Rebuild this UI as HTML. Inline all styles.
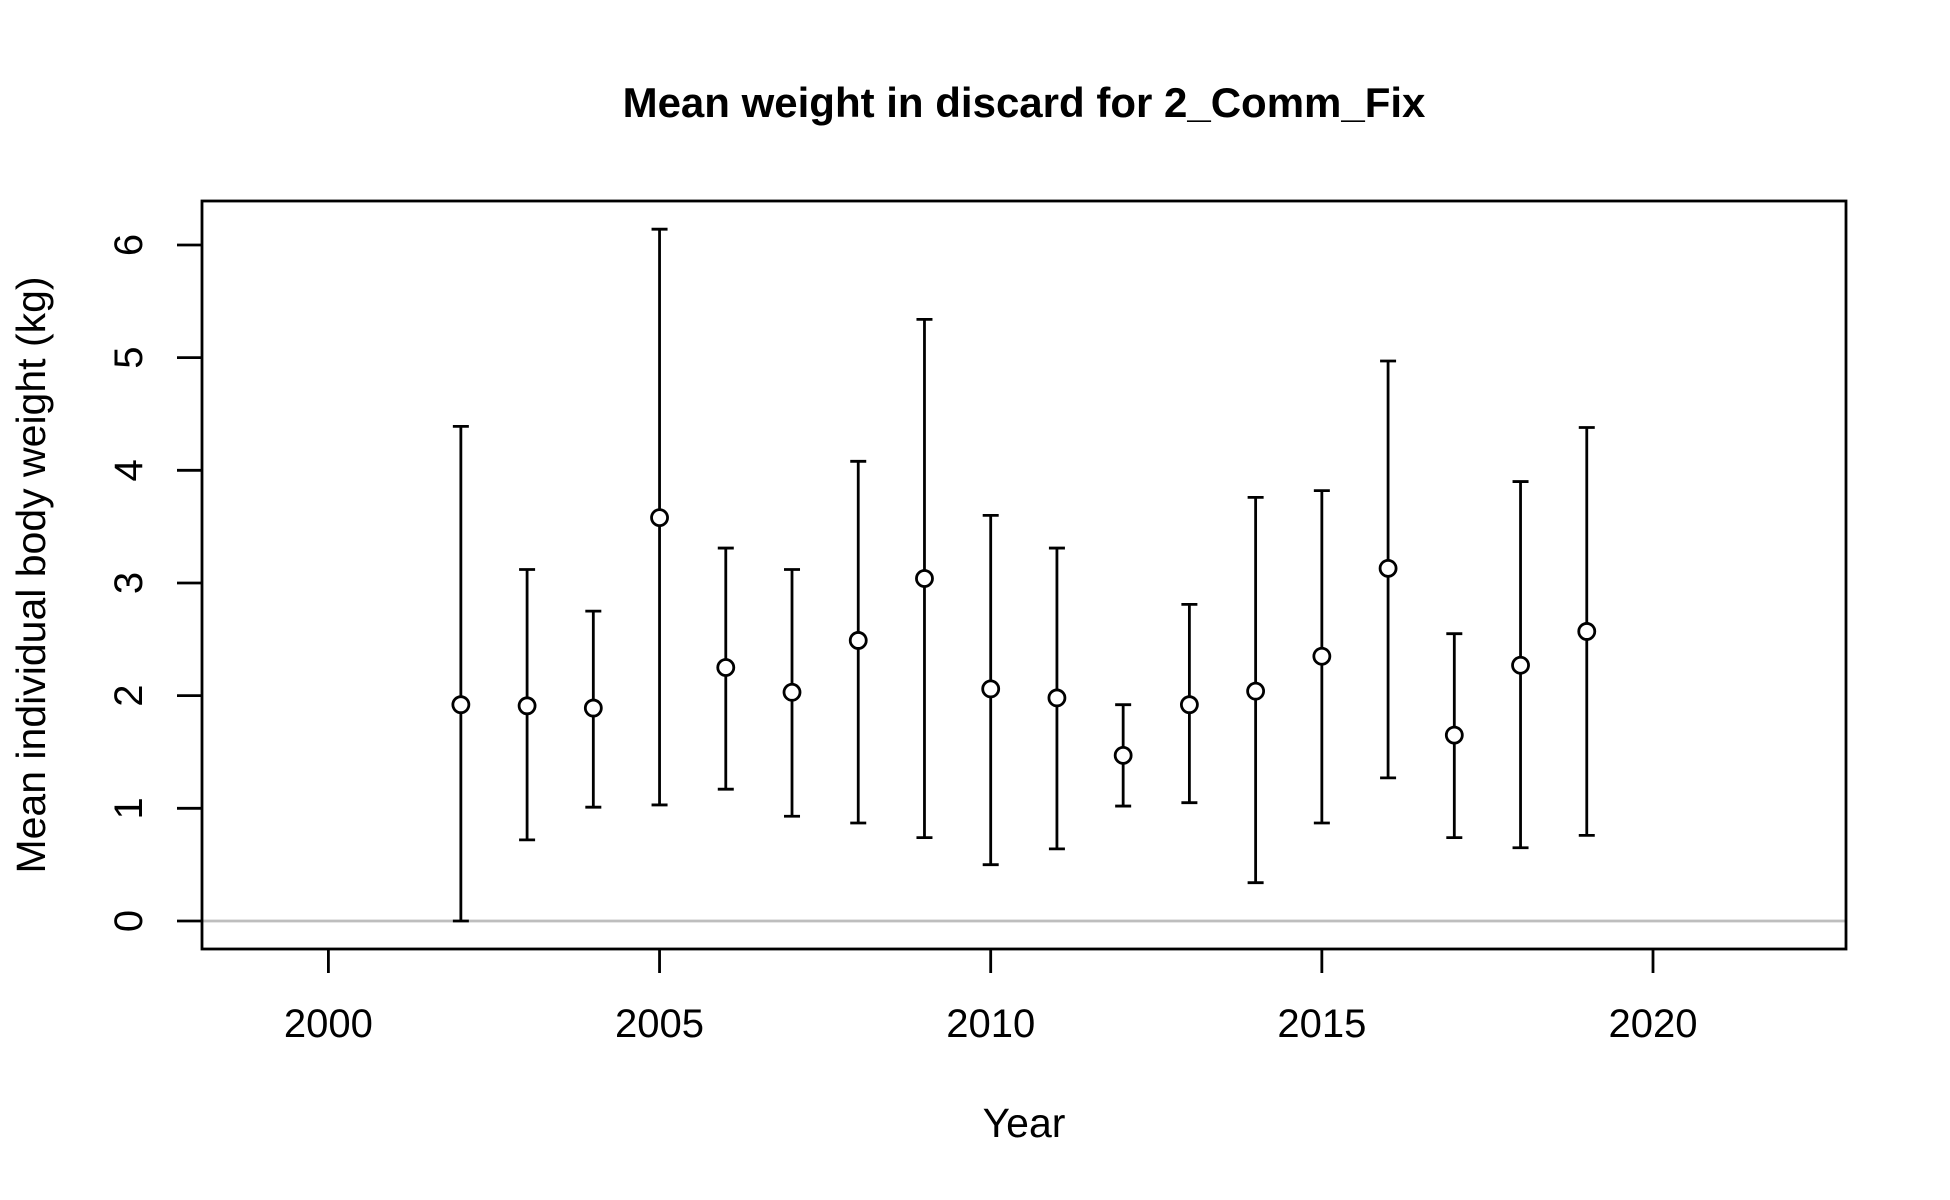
<!DOCTYPE html>
<html><head><meta charset="utf-8"><style>html,body{margin:0;padding:0;background:#fff}svg{display:block}text{font-family:"Liberation Sans",Arial,sans-serif}</style></head>
<body>
<svg id="chart" width="1950" height="1200" viewBox="0 0 1950 1200" xmlns="http://www.w3.org/2000/svg">
<rect width="1950" height="1200" fill="#fff"/>
<text x="1024" y="117" font-size="42" font-weight="bold" text-anchor="middle">Mean weight in discard for 2_Comm_Fix</text>
<text x="1024" y="1137" font-size="41" text-anchor="middle">Year</text>
<text transform="translate(45,575) rotate(-90)" font-size="41" text-anchor="middle">Mean individual body weight (kg)</text>
<g id="g"></g>
<rect x="202" y="201" width="1644" height="748" fill="none" stroke="#000" stroke-width="2.8"/>
</svg>
<script>
const years=[2002,2003,2004,2005,2006,2007,2008,2009,2010,2011,2012,2013,2014,2015,2016,2017,2018,2019];
const means=[1.92,1.91,1.89,3.58,2.25,2.03,2.49,3.04,2.06,1.98,1.47,1.92,2.04,2.35,3.13,1.65,2.27,2.57];
const lows=[0,0.72,1.01,1.03,1.17,0.93,0.87,0.74,0.50,0.64,1.02,1.05,0.34,0.87,1.27,0.74,0.65,0.76];
const highs=[4.39,3.12,2.75,6.14,3.31,3.12,4.08,5.34,3.60,3.31,1.92,2.81,3.76,3.82,4.97,2.55,3.90,4.38];
const xTicks=[2000,2005,2010,2015,2020];
const yTicks=[0,1,2,3,4,5,6];
const X=v=>328.4+(v-2000)*66.23;
const Y=v=>921-v*112.67;
const g=document.getElementById('g');
const NS='http://www.w3.org/2000/svg';
function mk(t,a,name){const e=document.createElementNS(NS,t);for(const k in a)e.setAttribute(k,a[k]);


g.appendChild(e);return e;}
mk('line',{x1:202,x2:1846,y1:Y(0),y2:Y(0),stroke:'#bebebe','stroke-width':2.8},'zero-line');
xTicks.forEach(t=>{mk('line',{x1:X(t),x2:X(t),y1:949,y2:973,stroke:'#000','stroke-width':2.8},'x-tick');
const tx=mk('text',{x:X(t),y:1037,'font-size':40,'text-anchor':'middle'},'x-tick-label');tx.textContent=t;});
yTicks.forEach(t=>{mk('line',{x1:177,x2:202,y1:Y(t),y2:Y(t),stroke:'#000','stroke-width':2.8},'y-tick');
const tx=mk('text',{transform:`translate(142,${Y(t)}) rotate(-90)`,'font-size':40,'text-anchor':'middle'},'y-tick-label');tx.textContent=t;});
years.forEach((yr,i)=>{const x=X(yr);
mk('line',{x1:x,x2:x,y1:Y(lows[i]),y2:Y(highs[i]),stroke:'#000','stroke-width':2.8},'error-bar');
mk('line',{x1:x-8,x2:x+8,y1:Y(highs[i]),y2:Y(highs[i]),stroke:'#000','stroke-width':2.8},'error-cap-high');
mk('line',{x1:x-8,x2:x+8,y1:Y(lows[i]),y2:Y(lows[i]),stroke:'#000','stroke-width':2.8},'error-cap-low');
mk('circle',{cx:x,cy:Y(means[i]),r:8,fill:'#fff',stroke:'#000','stroke-width':2.8},'mean-point');});
</script>
</body></html>
